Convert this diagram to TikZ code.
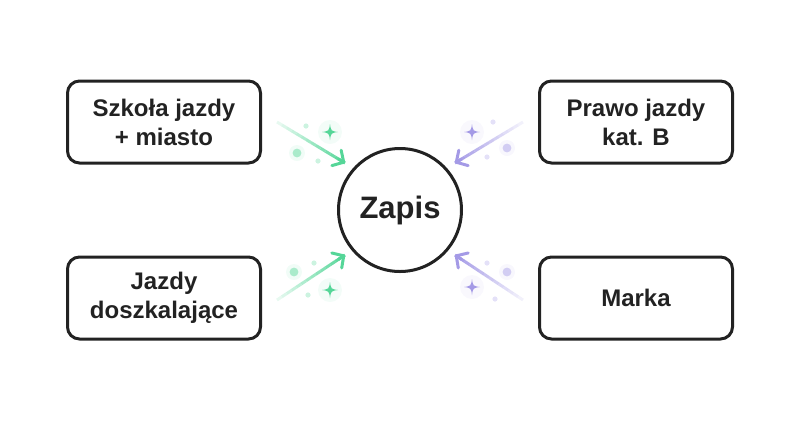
\documentclass[tikz,border=0pt]{standalone}
\usepackage{fontspec}
\setmainfont{Liberation Sans}
\usepackage{xcolor}
\usetikzlibrary{arrows.meta,positioning,calc}
\definecolor{mint}{HTML}{55D698}
\definecolor{lilac}{HTML}{A49AE6}
\definecolor{ink}{HTML}{222222}

\begin{document}
\begin{tikzpicture}[
  font=\bfseries\fontsize{12}{14.5}\selectfont,
  box/.style={draw=ink,line width=1.5pt,rounded corners=6pt,align=center,text=ink,minimum width=96.5pt,minimum height=41pt},
  hub/.style={draw=ink,line width=1.5pt,circle,minimum size=61.5pt,text=ink,font=\bfseries\fontsize{15.5}{18}\selectfont},
  head/.style={line width=1.5pt,-{Straight Barb[length=4.2pt,width=9pt,round]}},
  pics/sparkle/.style={code={
    \fill[#1!7] (0,0) circle (6pt);
    \fill[#1] (0,4pt) .. controls (0.5pt,0.5pt) .. (4pt,0) .. controls (0.5pt,-0.5pt) .. (0,-4pt)
      .. controls (-0.5pt,-0.5pt) .. (-4pt,0) .. controls (-0.5pt,0.5pt) .. cycle;}},
  pics/bigdot/.style={code={
    \fill[#1!8] (0,0) circle (4pt);
    \fill[#1!50] (0,0) circle (2.2pt);}},
  pics/dot/.style={code={\fill[#1!30] (0,0) circle (1.3pt);}}
]
\useasboundingbox (0,0) rectangle (400pt,-210pt);

\node[hub] (zapis) at (200pt,-105pt) {Zapis};
\node[box,left=37.5pt of zapis,yshift=44pt] (szkola) {Szkoła jazdy\\+ miasto};
\node[box,left=37.5pt of zapis,yshift=-44pt] (doszk) {Jazdy\\doszkalające};
\node[box,right=37.5pt of zapis,yshift=44pt] (prawo) {Prawo jazdy\\kat. B};
\node[box,right=37.5pt of zapis,yshift=-44pt] (marka) {Marka};

% arrow ends
\coordinate (s1) at ($(zapis)+(-61.5pt,44pt)$);
\coordinate (e1) at ($(zapis)+(-27.5pt,23.5pt)$);
\coordinate (s2) at ($(zapis)+(-61.5pt,-45pt)$);
\coordinate (e2) at ($(zapis)+(-27.5pt,-22.5pt)$);
\coordinate (s3) at ($(zapis)+(61.5pt,44pt)$);
\coordinate (e3) at ($(zapis)+(27.5pt,23.5pt)$);
\coordinate (s4) at ($(zapis)+(61.5pt,-45pt)$);
\coordinate (e4) at ($(zapis)+(27.5pt,-22.5pt)$);

% fading arrows
\foreach \a/\b/\c in {s1/e1/mint,s2/e2/mint,s3/e3/lilac,s4/e4/lilac}{
  \foreach \i [evaluate=\i as \p using int(8+\i*92/14)] in {1,...,14}
    \draw[line width=1.5pt,\c!\p!white] ($(\a)!{(\i-1)/14}!(\b)$) -- ($(\a)!{\i/14}!(\b)$);
  \draw[head,\c] ($(\a)!0.9!(\b)$) -- (\b);
}

% sparkles
\path (zapis) ++(-35pt,39pt) pic {sparkle=mint};
\path (zapis) ++(-47pt,42pt) pic {dot=mint};
\path (zapis) ++(-51.5pt,28.5pt) pic {bigdot=mint};
\path (zapis) ++(-41pt,24.5pt) pic {dot=mint};

\path (zapis) ++(36pt,39pt) pic {sparkle=lilac};
\path (zapis) ++(46.5pt,44pt) pic {dot=lilac};
\path (zapis) ++(53.5pt,31pt) pic {bigdot=lilac};
\path (zapis) ++(43.5pt,26.5pt) pic {dot=lilac};

\path (zapis) ++(-35pt,-40pt) pic {sparkle=mint};
\path (zapis) ++(-53pt,-31pt) pic {bigdot=mint};
\path (zapis) ++(-43pt,-26.5pt) pic {dot=mint};
\path (zapis) ++(-46pt,-42.5pt) pic {dot=mint};

\path (zapis) ++(36pt,-38.5pt) pic {sparkle=lilac};
\path (zapis) ++(43.5pt,-26.5pt) pic {dot=lilac};
\path (zapis) ++(53.5pt,-31pt) pic {bigdot=lilac};
\path (zapis) ++(47.5pt,-44.5pt) pic {dot=lilac};
\end{tikzpicture}
\end{document}
